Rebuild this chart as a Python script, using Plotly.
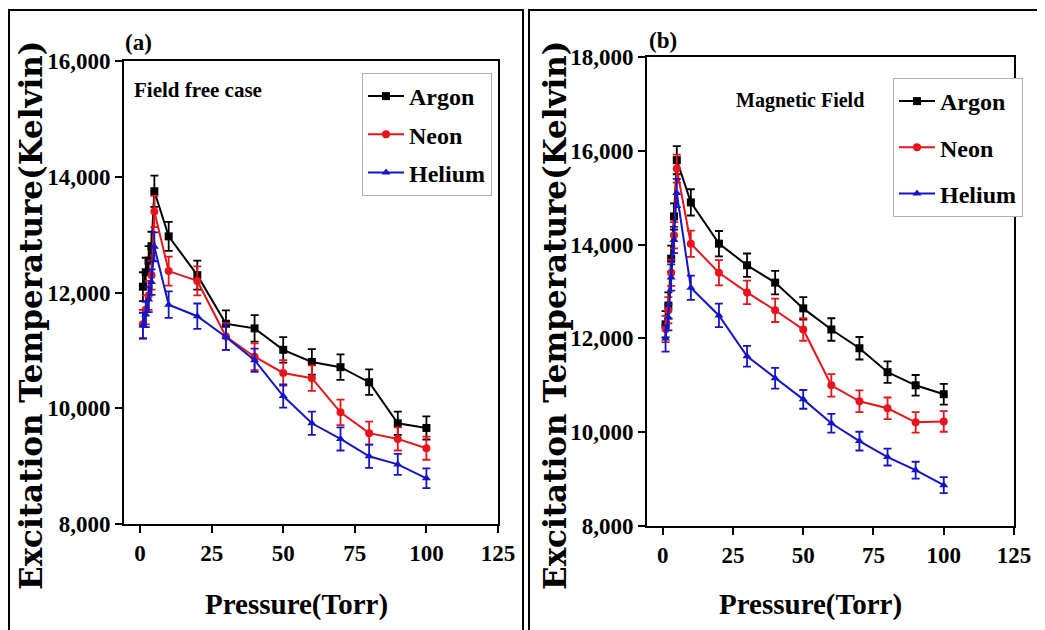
import plotly.graph_objects as go

# ---------------- data ----------------
pressure = [1, 2, 3, 4, 5, 10, 20, 30, 40, 50, 60, 70, 80, 90, 100]

# (a) Field free case
argon_a = [12100, 12350, 12550, 12800, 13750, 12970, 12300, 11460, 11380, 11010, 10800, 10710, 10450, 9740, 9660]
neon_a = [11450, 11700, 11950, 12300, 13400, 12370, 12200, 11240, 10890, 10610, 10520, 9930, 9570, 9470, 9310]
helium_a = [11430, 11620, 11880, 12180, 12790, 11790, 11590, 11230, 10830, 10210, 9740, 9470, 9170, 9030, 8790]
argon_a_err = [250, 250, 250, 250, 270, 250, 250, 230, 230, 220, 220, 220, 220, 200, 200]
neon_a_err = [250, 250, 250, 250, 270, 250, 250, 230, 230, 220, 220, 220, 200, 200, 200]
helium_a_err = [220, 220, 220, 220, 250, 230, 220, 220, 200, 200, 200, 200, 200, 180, 170]

# (b) Magnetic Field
argon_b = [12300, 12700, 13700, 14600, 15800, 14900, 14020, 13560, 13190, 12640, 12190, 11790, 11280, 11000, 10810]
neon_b = [12200, 12600, 13400, 14200, 15620, 14020, 13400, 12980, 12600, 12190, 11000, 10660, 10510, 10210, 10230]
helium_b = [12000, 12450, 13300, 14100, 15100, 13080, 12490, 11620, 11150, 10700, 10190, 9810, 9470, 9190, 8870]
argon_b_err = [280, 280, 280, 280, 300, 280, 270, 250, 250, 240, 240, 240, 230, 220, 220]
neon_b_err = [280, 280, 280, 280, 300, 280, 270, 250, 250, 240, 240, 230, 230, 220, 220]
helium_b_err = [280, 280, 280, 280, 300, 260, 250, 220, 220, 200, 200, 200, 180, 180, 170]

x_ticks = [0, 25, 50, 75, 100, 125]
y_ticks_a = [8000, 10000, 12000, 14000, 16000]
y_ticks_b = [8000, 10000, 12000, 14000, 16000, 18000]

series_names = ["Argon", "Neon", "Helium"]
colors = ["#000000", "#e8141b", "#1414c8"]
symbols = ["square", "circle", "triangle-up"]

SERIF = "Liberation Serif"

fig = go.Figure()

panel_a = [argon_a, neon_a, helium_a]
panel_a_err = [argon_a_err, neon_a_err, helium_a_err]
panel_b = [argon_b, neon_b, helium_b]
panel_b_err = [argon_b_err, neon_b_err, helium_b_err]

for i, name in enumerate(series_names):
    fig.add_trace(go.Scatter(
        x=pressure, y=panel_a[i], name=name, mode="lines+markers",
        line=dict(color=colors[i], width=2),
        marker=dict(symbol=symbols[i], size=8, color=colors[i]),
        error_y=dict(type="data", array=panel_a_err[i], color=colors[i], thickness=1.8, width=4),
        xaxis="x", yaxis="y", legend="legend", legendgroup="a" + name,
    ))
for i, name in enumerate(series_names):
    fig.add_trace(go.Scatter(
        x=pressure, y=panel_b[i], name=name, mode="lines+markers",
        line=dict(color=colors[i], width=2),
        marker=dict(symbol=symbols[i], size=8, color=colors[i]),
        error_y=dict(type="data", array=panel_b_err[i], color=colors[i], thickness=1.8, width=4),
        xaxis="x2", yaxis="y2", legend="legend2", legendgroup="b" + name,
    ))

W, H = 1045, 630
OFF = 8  # page body margin offset

def px_x(p):
    return (p - OFF) / W

def px_y(p):
    return 1 - (p - OFF) / H

axis_common = dict(
    showline=True, linecolor="black", linewidth=2, mirror=True,
    ticks="outside", ticklen=7, tickwidth=2, tickcolor="black",
    showgrid=False, zeroline=False, automargin=False,
    tickfont=dict(family=SERIF, size=23, color="black", weight="bold"),
)

legend_font = dict(family=SERIF, size=24, color="black", weight="bold")

fig.update_layout(
    width=W, height=H,
    margin=dict(l=0, r=0, t=0, b=0, autoexpand=False),
    paper_bgcolor="white", plot_bgcolor="white",
    font=dict(family=SERIF, color="black"),
    xaxis=dict(domain=[px_x(124), px_x(498)], range=[-5.6, 125], anchor="y",
               tickvals=x_ticks, **axis_common),
    yaxis=dict(domain=[px_y(524), px_y(61)], range=[8000, 16000], anchor="x",
               tickvals=y_ticks_a, tickformat=",d", **axis_common),
    xaxis2=dict(domain=[px_x(647), px_x(1014)], range=[-5.6, 125], anchor="y2",
                tickvals=x_ticks, **axis_common),
    yaxis2=dict(domain=[px_y(526), px_y(57)], range=[8000, 18000], anchor="x2",
                tickvals=y_ticks_b, tickformat=",d", **axis_common),
    legend=dict(x=px_x(362), y=px_y(73), xanchor="left", yanchor="top",
                bordercolor="#b0b0b0", borderwidth=1, bgcolor="white",
                font=legend_font, tracegroupgap=4, itemwidth=36),
    legend2=dict(x=px_x(893), y=px_y(78), xanchor="left", yanchor="top",
                 bordercolor="#b0b0b0", borderwidth=1, bgcolor="white",
                 font=legend_font, tracegroupgap=12, itemwidth=36),
    showlegend=True,
)

# panel frames
fig.add_shape(type="rect", xref="paper", yref="paper",
              x0=px_x(9), x1=px_x(523), y0=px_y(650), y1=px_y(10),
              line=dict(color="black", width=2))
fig.add_shape(type="rect", xref="paper", yref="paper",
              x0=px_x(529), x1=px_x(1041), y0=px_y(650), y1=px_y(10),
              line=dict(color="black", width=2))

ann_font = dict(family=SERIF, color="black", weight="bold")
ytitle_font = dict(family="DejaVu Serif", size=31, color="black", weight="bold")
annotations = [
    dict(text="(a)", x=px_x(138), y=px_y(42), font=dict(size=23, **ann_font)),
    dict(text="(b)", x=px_x(663), y=px_y(40), font=dict(size=23, **ann_font)),
    dict(text="Field free case", x=px_x(132), y=px_y(90), xanchor="left", font=dict(size=21, **ann_font)),
    dict(text="Magnetic Field", x=px_x(734), y=px_y(100), xanchor="left", font=dict(size=20, **ann_font)),
    dict(text="Pressure(Torr)", x=px_x(296), y=px_y(604), font=dict(size=29, **ann_font)),
    dict(text="Pressure(Torr)", x=px_x(810), y=px_y(604), font=dict(size=29, **ann_font)),
    dict(text="Excitation Temperature(Kelvin)", x=px_x(31), y=px_y(316), textangle=-90, font=ytitle_font),
    dict(text="Excitation Temperature(Kelvin)", x=px_x(555), y=px_y(316), textangle=-90, font=ytitle_font),
]
for a in annotations:
    a.setdefault("xanchor", "center")
    fig.add_annotation(xref="paper", yref="paper", yanchor="middle", showarrow=False, **a)

fig.write_html("out.html")
